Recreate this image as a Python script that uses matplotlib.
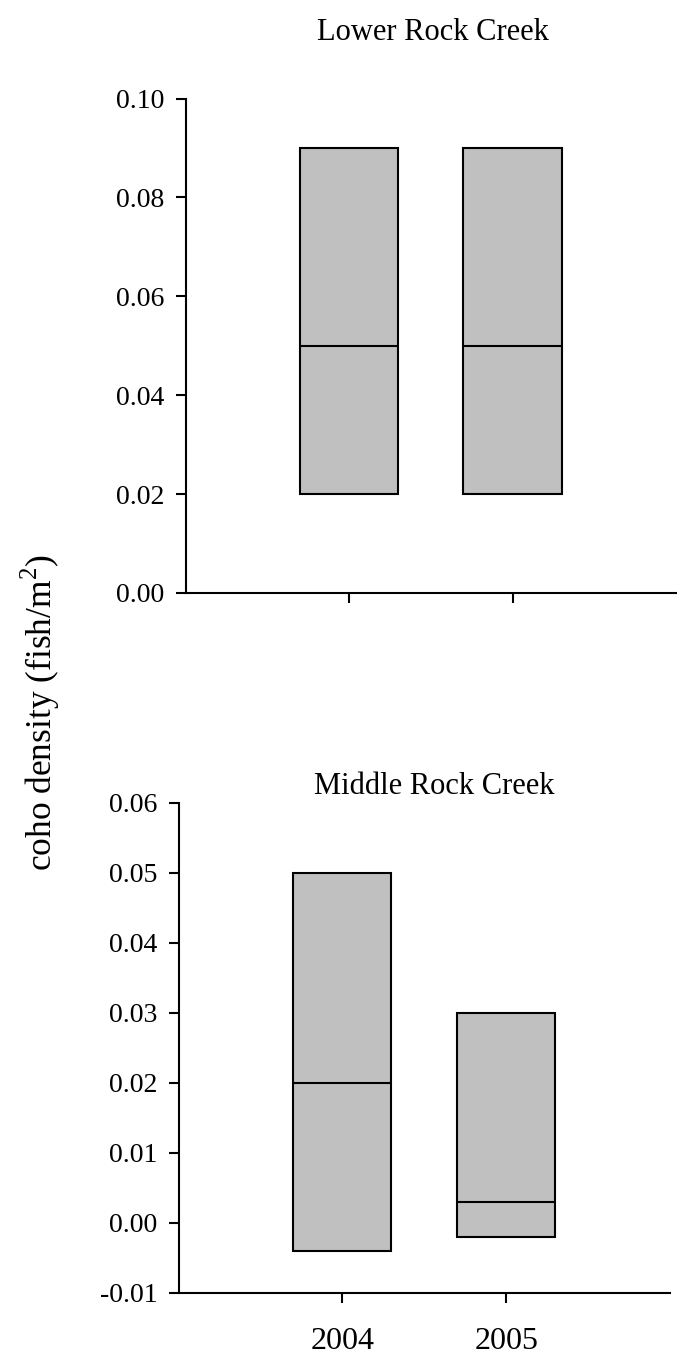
import matplotlib
matplotlib.use("Agg")
import matplotlib.pyplot as plt

plt.rcParams['font.family'] = ['Liberation Serif', 'DejaVu Serif']
plt.rcParams['mathtext.fontset'] = 'custom'
plt.rcParams['mathtext.rm'] = 'Liberation Serif'

years = ["2004", "2005"]
lower_low = [0.02, 0.02]
lower_med = [0.05, 0.05]
lower_high = [0.09, 0.09]
middle_low = [-0.004, -0.002]
middle_med = [0.02, 0.003]
middle_high = [0.05, 0.03]

W, H = 677, 1360
fig = plt.figure(figsize=(W / 100, H / 100), dpi=100)

def px_axes(left, top, right, bottom):
    return fig.add_axes([left / W, 1 - bottom / H, (right - left) / W, (bottom - top) / H])

ax1 = px_axes(185.5, 98.5, 676, 593)
ax2 = px_axes(178.5, 802.7, 670, 1292.7)

def draw(ax, low, med, high, ylim, yticks, fmt, show_x):
    pos = [1, 2]
    heights = [h - l for h, l in zip(high, low)]
    ax.bar(pos, heights, bottom=low, width=0.6, color='#c0c0c0',
           edgecolor='black', linewidth=1.5, zorder=2)
    ax.hlines(med, [p - 0.3 for p in pos], [p + 0.3 for p in pos],
              colors='black', linewidth=1.5, zorder=3)
    ax.set_xlim(0, 3)
    ax.set_ylim(*ylim)
    ax.set_yticks(yticks)
    ax.set_yticklabels([fmt.format(v) for v in yticks], fontsize=20)
    ax.set_xticks(pos)
    if show_x:
        ax.set_xticklabels(years, fontsize=23)
    else:
        ax.set_xticklabels([])
    for s in ['top', 'right']:
        ax.spines[s].set_visible(False)
    for s in ['left', 'bottom']:
        ax.spines[s].set_linewidth(1.5)
    ax.tick_params(axis='y', direction='out', length=7, width=1.5, pad=8)
    ax.tick_params(axis='x', direction='out', length=7, width=1.5, pad=18)

draw(ax1, lower_low, lower_med, lower_high, (0, 0.10),
     [0.0, 0.02, 0.04, 0.06, 0.08, 0.10], "{:.2f}", False)
draw(ax2, middle_low, middle_med, middle_high, (-0.01, 0.06),
     [-0.01, 0.0, 0.01, 0.02, 0.03, 0.04, 0.05, 0.06], "{:.2f}", True)

fig.text(432.5 / W, 1 - 40 / H, "Lower Rock Creek", ha='center', va='baseline', fontsize=22)
fig.text(434.5 / W, 1 - 794 / H, "Middle Rock Creek", ha='center', va='baseline', fontsize=22)
fig.text(40 / W, 1 - 713 / H, "coho density (fish/m$^2$)", rotation=90,
         ha='center', va='center', fontsize=25.5)

fig.savefig("out.png", dpi=100)
